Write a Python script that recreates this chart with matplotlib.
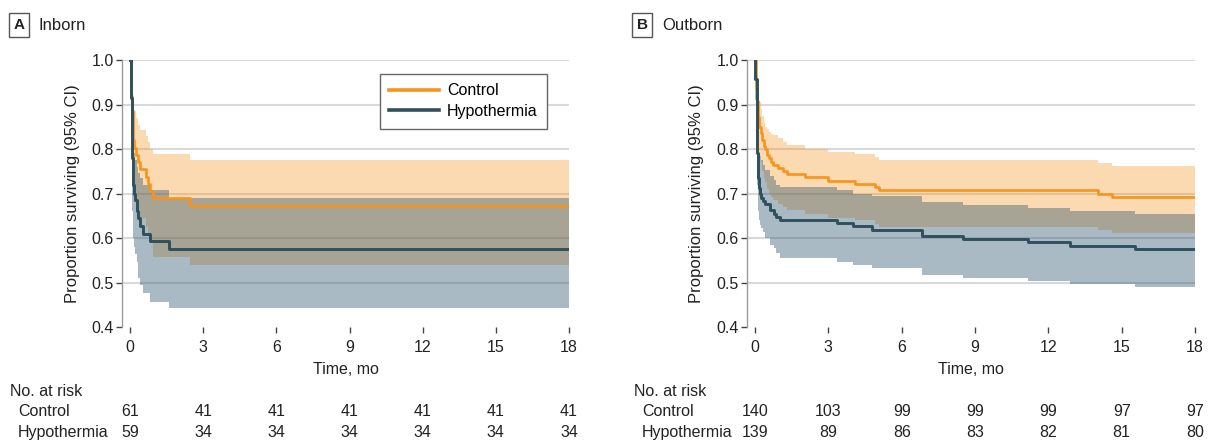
import matplotlib
matplotlib.use("Agg")
import matplotlib.pyplot as plt
from matplotlib import transforms

plt.rcParams['font.family'] = ['Liberation Sans', 'DejaVu Sans']
plt.rcParams['font.size'] = 11

months = [0, 3, 6, 9, 12, 15, 18]
followup_end = 18

# A: inborn -- control (n=61)
a_ctrl_t = [0, 0.05, 0.08, 0.11, 0.14, 0.18, 0.23, 0.32, 0.41, 0.64, 0.72, 0.82, 0.96, 2.46]
a_ctrl_s = [1.0, 0.918, 0.885, 0.852, 0.820, 0.803, 0.787, 0.770, 0.754, 0.738, 0.721, 0.705, 0.689, 0.672]
a_ctrl_hi = [1.0, 0.97, 0.95, 0.92, 0.90, 0.885, 0.87, 0.855, 0.843, 0.830, 0.816, 0.800, 0.789, 0.775]
a_ctrl_lo = [1.0, 0.83, 0.79, 0.75, 0.72, 0.70, 0.68, 0.665, 0.645, 0.625, 0.605, 0.59, 0.558, 0.539]

# A: inborn -- hypothermia (n=59)
a_hypo_t = [0, 0.02, 0.04, 0.06, 0.08, 0.10, 0.12, 0.14, 0.17, 0.20, 0.27, 0.34, 0.41, 0.55, 0.82, 1.60]
a_hypo_s = [1.0, 0.949, 0.915, 0.864, 0.814, 0.78, 0.746, 0.72, 0.70, 0.686, 0.661, 0.644, 0.627, 0.610, 0.593, 0.576]
a_hypo_hi = [1.0, 0.99, 0.97, 0.93, 0.89, 0.86, 0.83, 0.81, 0.79, 0.775, 0.76, 0.745, 0.734, 0.72, 0.708, 0.69]
a_hypo_lo = [1.0, 0.87, 0.82, 0.76, 0.70, 0.66, 0.63, 0.60, 0.58, 0.565, 0.545, 0.51, 0.494, 0.476, 0.457, 0.442]

# B: outborn -- control (n=140)
b_ctrl_t = [0, 0.02, 0.04, 0.07, 0.10, 0.14, 0.18, 0.23, 0.30, 0.36, 0.41, 0.47, 0.55, 0.64, 0.72,
            0.95, 1.16, 1.30, 2.05, 3.00, 4.09, 4.91, 5.09, 14.05, 14.60]
b_ctrl_s = [1.0, 0.964, 0.936, 0.907, 0.886, 0.871, 0.85, 0.836, 0.821, 0.807, 0.80, 0.786, 0.779, 0.771, 0.764,
            0.757, 0.75, 0.743, 0.736, 0.729, 0.721, 0.714, 0.707, 0.70, 0.693]
b_ctrl_hi = [1.0, 0.99, 0.975, 0.955, 0.94, 0.925, 0.905, 0.89, 0.875, 0.86, 0.85, 0.845, 0.839, 0.834, 0.831,
             0.825, 0.815, 0.809, 0.80, 0.794, 0.789, 0.783, 0.775, 0.768, 0.762]
b_ctrl_lo = [1.0, 0.92, 0.885, 0.85, 0.825, 0.81, 0.785, 0.77, 0.75, 0.735, 0.725, 0.71, 0.70, 0.693, 0.685,
             0.676, 0.670, 0.663, 0.655, 0.646, 0.640, 0.632, 0.625, 0.618, 0.611]

# B: outborn -- hypothermia (n=139)
b_hypo_t = [0, 0.01, 0.06, 0.07, 0.08, 0.10, 0.12, 0.14, 0.17, 0.20, 0.25, 0.31, 0.41, 0.61, 0.78,
            0.86, 1.02, 3.34, 4.02, 4.77, 6.82, 8.50, 11.18, 12.89, 15.55]
b_hypo_s = [1.0, 0.957, 0.90, 0.84, 0.79, 0.763, 0.748, 0.734, 0.712, 0.698, 0.691, 0.683, 0.676, 0.662, 0.655,
            0.647, 0.640, 0.633, 0.626, 0.619, 0.604, 0.597, 0.590, 0.583, 0.576]
b_hypo_hi = [1.0, 0.99, 0.95, 0.90, 0.85, 0.83, 0.815, 0.80, 0.79, 0.785, 0.775, 0.765, 0.753, 0.74, 0.73,
             0.72, 0.714, 0.707, 0.700, 0.694, 0.682, 0.675, 0.668, 0.661, 0.653]
b_hypo_lo = [1.0, 0.91, 0.84, 0.77, 0.72, 0.69, 0.675, 0.66, 0.64, 0.63, 0.622, 0.614, 0.60, 0.585, 0.577,
             0.566, 0.556, 0.547, 0.539, 0.532, 0.517, 0.511, 0.504, 0.497, 0.489]

a_ctrl_risk = [61, 41, 41, 41, 41, 41, 41]
a_hypo_risk = [59, 34, 34, 34, 34, 34, 34]
b_ctrl_risk = [140, 103, 99, 99, 99, 97, 97]
b_hypo_risk = [139, 89, 86, 83, 82, 81, 80]

ORANGE = '#F7941D'
TEAL = '#2E505C'
BAND_BLUE = '#2B536C'


def ext(vals, last):
    return list(vals) + [last]


def draw_panel(ax, ctrl, hypo, show_legend):
    for y in [0.5, 0.6, 0.7, 0.8, 0.9, 1.0]:
        ax.axhline(y, color='#d9d9d9', lw=1.5, zorder=1)

    (ct, cs, chi, clo), (ht, hs, hhi, hlo) = ctrl, hypo
    ax.fill_between(ext(ct, followup_end), ext(clo, clo[-1]), ext(chi, chi[-1]),
                    step='post', color=ORANGE, alpha=0.34, lw=0, zorder=2)
    ax.fill_between(ext(ht, followup_end), ext(hlo, hlo[-1]), ext(hhi, hhi[-1]),
                    step='post', color=BAND_BLUE, alpha=0.4, lw=0, zorder=3)
    ax.step(ext(ct, followup_end), ext(cs, cs[-1]), where='post', color=ORANGE, lw=1.9,
            zorder=5, label='Control')
    ax.step(ext(ht, followup_end), ext(hs, hs[-1]), where='post', color=TEAL, lw=2.1,
            zorder=6, label='Hypothermia')

    ax.set_xlim(-0.33, 18)
    ax.set_ylim(0.4, 1.0)
    ax.set_xticks(months)
    ax.set_yticks([0.4, 0.5, 0.6, 0.7, 0.8, 0.9, 1.0])
    ax.set_yticklabels(['0.4', '0.5', '0.6', '0.7', '0.8', '0.9', '1.0'])
    for side in ['top', 'right', 'bottom']:
        ax.spines[side].set_visible(False)
    ax.spines['left'].set_color('#9a9a9a')
    ax.spines['left'].set_linewidth(1.0)
    ax.tick_params(axis='y', length=4, width=1, color='#444444', pad=2, labelsize=11.5,
                   labelcolor='#222222')
    ax.tick_params(axis='x', length=4, width=1, color='#444444', pad=5, labelsize=11.5,
                   labelcolor='#222222')
    ax.set_ylabel('Proportion surviving (95% CI)', fontsize=12, color='#222222')
    ax.yaxis.set_label_coords(-0.095, 0.5)
    ax.set_xlabel('Time, mo', fontsize=11.5, color='#222222')
    ax.xaxis.set_label_coords(0.5, -0.13)
    ax.set_facecolor('none')

    if show_legend:
        leg = ax.legend(loc='upper right', bbox_to_anchor=(0.951, 0.948), borderaxespad=0,
                        fancybox=False, edgecolor='#666666', framealpha=1, fontsize=11.5,
                        handlelength=3.1, labelspacing=0.35, borderpad=0.6, handletextpad=0.5)
        leg.get_frame().set_linewidth(1.0)
        for line in leg.get_lines():
            line.set_linewidth(2.6)


fig = plt.figure(figsize=(12.1, 4.4), dpi=100)
ax_a = fig.add_axes([122 / 1210, 113 / 440, 447 / 1210, 267 / 440])
ax_b = fig.add_axes([747 / 1210, 113 / 440, 448 / 1210, 267 / 440])

draw_panel(ax_a, (a_ctrl_t, a_ctrl_s, a_ctrl_hi, a_ctrl_lo),
           (a_hypo_t, a_hypo_s, a_hypo_hi, a_hypo_lo), True)
draw_panel(ax_b, (b_ctrl_t, b_ctrl_s, b_ctrl_hi, b_ctrl_lo),
           (b_hypo_t, b_hypo_s, b_hypo_hi, b_hypo_lo), False)

# panel titles
for x_box, x_txt, letter, title in [(19, 38, 'A', 'Inborn'), (642, 662, 'B', 'Outborn')]:
    fig.text(x_box / 1210, 1 - 25 / 440, letter, ha='center', va='center', fontsize=11,
             fontweight='bold', color='#222222',
             bbox=dict(boxstyle='square,pad=0.3', fc='white', ec='#555555', lw=1))
    fig.text(x_txt / 1210, 1 - 25 / 440, title, ha='left', va='center', fontsize=12,
             color='#222222')

# number at risk tables
for ax, x0, ctrl_risk, hypo_risk in [(ax_a, 10, a_ctrl_risk, a_hypo_risk),
                                     (ax_b, 634, b_ctrl_risk, b_hypo_risk)]:
    fig.text(x0 / 1210, 1 - 391 / 440, 'No. at risk', ha='left', va='center', fontsize=11.5,
             color='#222222')
    fig.text((x0 + 8) / 1210, 1 - 411 / 440, 'Control', ha='left', va='center', fontsize=11.5,
             color='#222222')
    fig.text((x0 + 8) / 1210, 1 - 432 / 440, 'Hypothermia', ha='left', va='center',
             fontsize=11.5, color='#222222')
    trans = transforms.blended_transform_factory(ax.transData, fig.transFigure)
    for m, c, h in zip(months, ctrl_risk, hypo_risk):
        ax.text(m, 1 - 411 / 440, str(c), transform=trans, ha='center', va='center',
                fontsize=11.5, color='#222222')
        ax.text(m, 1 - 432 / 440, str(h), transform=trans, ha='center', va='center',
                fontsize=11.5, color='#222222')

fig.savefig('out.png', dpi=100)
